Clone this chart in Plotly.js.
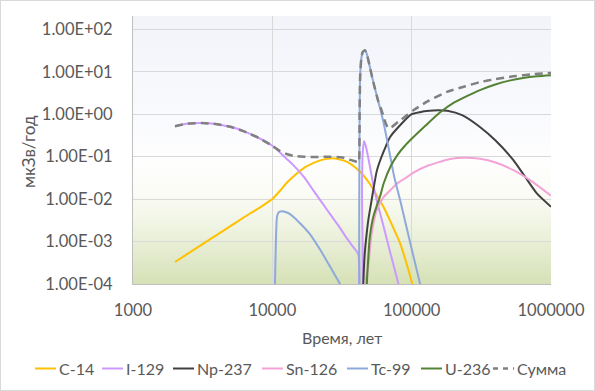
<!DOCTYPE html>
<html>
<head>
<meta charset="utf-8">
<script src="https://cdn.plot.ly/plotly-3.0.1.min.js"></script>
<style>
  html, body { margin: 0; padding: 0; background: #ffffff; }
  #wrap { position: relative; width: 595px; height: 391px; }
  #chart { width: 595px; height: 391px; }
  #border { position: absolute; left: 0; top: 0; width: 595px; height: 391px; box-sizing: border-box; border: 1px solid #d9d9d9; pointer-events: none; }
</style>
</head>
<body>
<div id="wrap"><div id="chart"></div><div id="border"></div></div>
<script>
// ---------- data (time in years, dose in мкЗв/год) ----------
const seriesNames = ['C-14', 'I-129', 'Np-237', 'Sn-126', 'Tc-99', 'U-236', 'Сумма'];

const c14T = [2000, 3000, 4000, 5000, 6000, 7000, 8000, 9000, 10000, 11350, 12500, 14100, 17000, 20000, 23000, 26000, 30000, 35000, 42700, 50000, 56000, 62700, 70000, 76000, 82600, 92000, 101000, 110000];
const c14V = [0.00033, 0.00078, 0.00144, 0.0023, 0.0034, 0.0047, 0.0061, 0.0079, 0.0100, 0.0157, 0.023, 0.0335, 0.055, 0.072, 0.085, 0.091, 0.087, 0.073, 0.044, 0.023, 0.0125, 0.0066, 0.0031, 0.0017, 0.00091, 0.0003, 0.0001, 0.00003];

const i129T = [2000, 2500, 3100, 4000, 5000, 6200, 8000, 10000, 11350, 12500, 14100, 17000, 19700, 23000, 27000, 30000, 34200, 38000, 41400, 41900, 43500, 44000, 44500, 45500, 47000, 50200, 53000, 56100, 62000, 70000, 80300, 85000];
const i129V = [0.52, 0.60, 0.62, 0.583, 0.504, 0.40, 0.275, 0.18, 0.125, 0.092, 0.064, 0.032, 0.016, 0.0078, 0.0037, 0.0023, 0.0012, 0.00075, 0.0005, 0.000001, 0.000001, 0.02, 0.12, 0.235, 0.17, 0.058, 0.022, 0.0095, 0.0027, 0.00057, 0.0001, 0.00004];

const np237T = [44500, 45000, 46000, 47500, 48900, 51600, 56100, 59300, 65000, 70000, 82600, 100000, 120000, 143000, 155000, 180000, 230000, 309000, 400000, 537000, 650000, 791000, 1000000];
const np237V = [0.000001, 0.0001, 0.0005, 0.0015, 0.0033, 0.0095, 0.045, 0.08, 0.17, 0.29, 0.55, 1.0, 1.15, 1.22, 1.24, 1.2, 0.95, 0.50, 0.24, 0.083, 0.034, 0.0136, 0.0066];

const sn126T = [45500, 46500, 48900, 51600, 56100, 62700, 70000, 78200, 90000, 103000, 130000, 189000, 241000, 309000, 400000, 537000, 750000, 1000000];
const sn126V = [0.000001, 0.0001, 0.00027, 0.0015, 0.0055, 0.011, 0.016, 0.023, 0.031, 0.042, 0.061, 0.088, 0.094, 0.089, 0.073, 0.048, 0.0245, 0.012];

const tc99T = [10400, 10450, 10600, 10800, 11100, 11700, 13000, 14200, 15800, 18600, 22000, 24600, 28200, 30600, 33000, 41800, 42000, 42300, 42700, 43500, 44500, 46200, 47500, 49000, 52000, 54500, 57400, 62400, 68900, 75000, 82600, 91000, 100800, 115000, 120000];
const tc99V = [0.000001, 0.0001, 0.0009, 0.0038, 0.0049, 0.0052, 0.0047, 0.0038, 0.0027, 0.0015, 0.00065, 0.00035, 0.00016, 0.0001, 0.00006, 0.000001, 0.001, 1.0, 8, 20, 29, 32, 27, 18, 7.5, 4.0, 2.1, 0.7, 0.14, 0.033, 0.0095, 0.0025, 0.0006, 0.0001, 0.00006];

const u236T = [46500, 47700, 49000, 50100, 53000, 56200, 59300, 63100, 70800, 79400, 89100, 100000, 125900, 158500, 199500, 251200, 316200, 398100, 501200, 631000, 794300, 1000000];
const u236V = [0.000001, 0.0001, 0.0005, 0.0013, 0.0038, 0.007, 0.0115, 0.024, 0.060, 0.112, 0.178, 0.263, 0.54, 1.08, 1.85, 2.7, 3.8, 5.0, 6.17, 7.16, 7.85, 8.3];

const sumT = [2000, 2500, 3100, 4000, 5000, 6200, 8000, 10000, 11350, 12500, 14100, 17000, 20000, 26000, 32000, 38000, 41500, 41800, 42300, 42700, 43500, 44500, 46200, 47500, 49000, 52000, 54500, 57400, 60000, 62400, 65000, 68000, 72000, 80000, 90000, 103000, 130000, 179000, 240000, 309000, 400000, 537000, 750000, 1000000];
const sumV = [0.52, 0.60, 0.62, 0.583, 0.504, 0.40, 0.275, 0.18, 0.135, 0.117, 0.105, 0.1, 0.098, 0.1, 0.095, 0.08, 0.074, 0.075, 1.0, 8, 20, 29, 32, 27, 18, 7.5, 4.0, 2.1, 1.4, 0.95, 0.62, 0.47, 0.5, 0.66, 0.88, 1.24, 2.0, 3.35, 4.5, 5.7, 6.7, 7.8, 8.8, 9.3];

const xTickVals = [1000, 10000, 100000, 1000000];
const xTickText = ['1000', '10000', '100000', '1000000'];
const yTickVals = [1e-4, 1e-3, 1e-2, 1e-1, 1e0, 1e1, 1e2];
const yTickText = ['1.00E-04', '1.00E-03', '1.00E-02', '1.00E-01', '1.00E+00', '1.00E+01', '1.00E+02'];

const xTitle = 'Время, лет';
const yTitle = 'мкЗв/год';

// ---------- styles ----------
const styles = {
  'C-14':   { color: '#FFC000', width: 2, dash: 'solid' },
  'I-129':  { color: '#CC99FF', width: 2, dash: 'solid' },
  'Np-237': { color: '#404040', width: 2, dash: 'solid' },
  'Sn-126': { color: '#F4A3D6', width: 2, dash: 'solid' },
  'Tc-99':  { color: '#8EA9DB', width: 2, dash: 'solid' },
  'U-236':  { color: '#548235', width: 2, dash: 'solid' },
  'Сумма':  { color: '#808080', width: 2.5, dash: '8px,5px' }
};
const seriesData = {
  'C-14': [c14T, c14V], 'I-129': [i129T, i129V], 'Np-237': [np237T, np237V],
  'Sn-126': [sn126T, sn126V], 'Tc-99': [tc99T, tc99V], 'U-236': [u236T, u236V], 'Сумма': [sumT, sumV]
};

const FONT = 'Lato, "Open Sans", "DejaVu Sans", sans-serif';
const TXT = '#595959';

const traces = seriesNames.map(n => ({
  type: 'scatter', mode: 'lines', name: n,
  x: seriesData[n][0], y: seriesData[n][1],
  line: { color: styles[n].color, width: styles[n].width, dash: styles[n].dash, shape: 'spline', smoothing: 0.6 },
  hoverinfo: 'skip', showlegend: false
}));

// plot area geometry (pixels)
const W = 595, H = 391;
const L = 133, R = 551, T = 16, B = 284;
const pw = R - L, ph = B - T;
const px2x = px => (px - L) / pw;
const py2y = py => (B - py) / ph;

// custom legend (Excel-like short samples)
const legendStarts = [35, 102, 173, 262, 347, 421, 493];
const legendY = 368.5;
const sampleLen = 21;
const shapes = [];
const annotations = [];
seriesNames.forEach((n, i) => {
  const x0 = legendStarts[i];
  shapes.push({ type: 'line', xref: 'paper', yref: 'paper', x0: px2x(x0), x1: px2x(x0 + sampleLen),
    y0: py2y(legendY), y1: py2y(legendY),
    line: { color: styles[n].color, width: styles[n].width, dash: n === 'Сумма' ? '5px,5px' : 'solid' } });
  annotations.push({ xref: 'paper', yref: 'paper', x: px2x(x0 + sampleLen + 1), y: py2y(legendY - 0.5),
    xanchor: 'left', yanchor: 'middle', showarrow: false, text: n,
    font: { family: FONT, size: 16, color: TXT } });
});
annotations.push({ xref: 'paper', yref: 'paper', x: px2x(342), y: py2y(337), xanchor: 'center', yanchor: 'middle',
  showarrow: false, text: xTitle, font: { family: FONT, size: 16, color: TXT } });
annotations.push({ xref: 'paper', yref: 'paper', x: px2x(28), y: py2y(152), xanchor: 'center', yanchor: 'middle',
  showarrow: false, text: yTitle, textangle: -90, font: { family: FONT, size: 17, color: TXT } });

// background gradient of plot area
const svg = "<svg xmlns='http://www.w3.org/2000/svg' width='418' height='268' preserveAspectRatio='none'>" +
  "<defs><linearGradient id='g' x1='0' y1='0' x2='0' y2='1'>" +
  "<stop offset='0' stop-color='#f2f4fa'/>" +
  "<stop offset='0.38' stop-color='#f9fafd'/>" +
  "<stop offset='0.54' stop-color='#fefefe'/>" +
  "<stop offset='0.66' stop-color='#fbfcf6'/>" +
  "<stop offset='0.78' stop-color='#f0f4e3'/>" +
  "<stop offset='0.9' stop-color='#e2eacb'/>" +
  "<stop offset='1' stop-color='#d6e1b6'/>" +
  "</linearGradient></defs><rect width='418' height='268' fill='url(#g)'/></svg>";
const bgSrc = 'data:image/svg+xml;charset=utf-8,' + encodeURIComponent(svg);

const layout = {
  width: W, height: H,
  margin: { l: L, r: W - R, t: T, b: H - B, pad: 0 },
  paper_bgcolor: '#ffffff',
  plot_bgcolor: 'rgba(0,0,0,0)',
  showlegend: false,
  font: { family: FONT, size: 16, color: TXT },
  xaxis: {
    type: 'log', range: [3, 6], tickmode: 'array', tickvals: xTickVals, ticktext: xTickText,
    showgrid: true, gridcolor: '#d9d9d9', gridwidth: 1,
    showline: true, linecolor: '#bfbfbf', linewidth: 1, mirror: false,
    ticks: '', ticklabelstandoff: 11, zeroline: false,
    tickfont: { family: FONT, size: 16.5, color: TXT }, fixedrange: true
  },
  yaxis: {
    type: 'log', range: [-4, 2.313], tickmode: 'array', tickvals: yTickVals, ticktext: yTickText,
    showgrid: true, gridcolor: '#d9d9d9', gridwidth: 1,
    showline: true, linecolor: '#bfbfbf', linewidth: 1,
    ticks: '', ticklabelstandoff: 16, zeroline: false,
    tickfont: { family: FONT, size: 16.5, color: TXT }, fixedrange: true
  },
  images: [{ source: bgSrc, xref: 'paper', yref: 'paper', x: 0, y: 1, sizex: 1, sizey: 1,
    xanchor: 'left', yanchor: 'top', sizing: 'stretch', layer: 'below' }],
  shapes: shapes,
  annotations: annotations
};

Plotly.newPlot('chart', traces, layout, { staticPlot: true, displayModeBar: false });
</script>
</body>
</html>
